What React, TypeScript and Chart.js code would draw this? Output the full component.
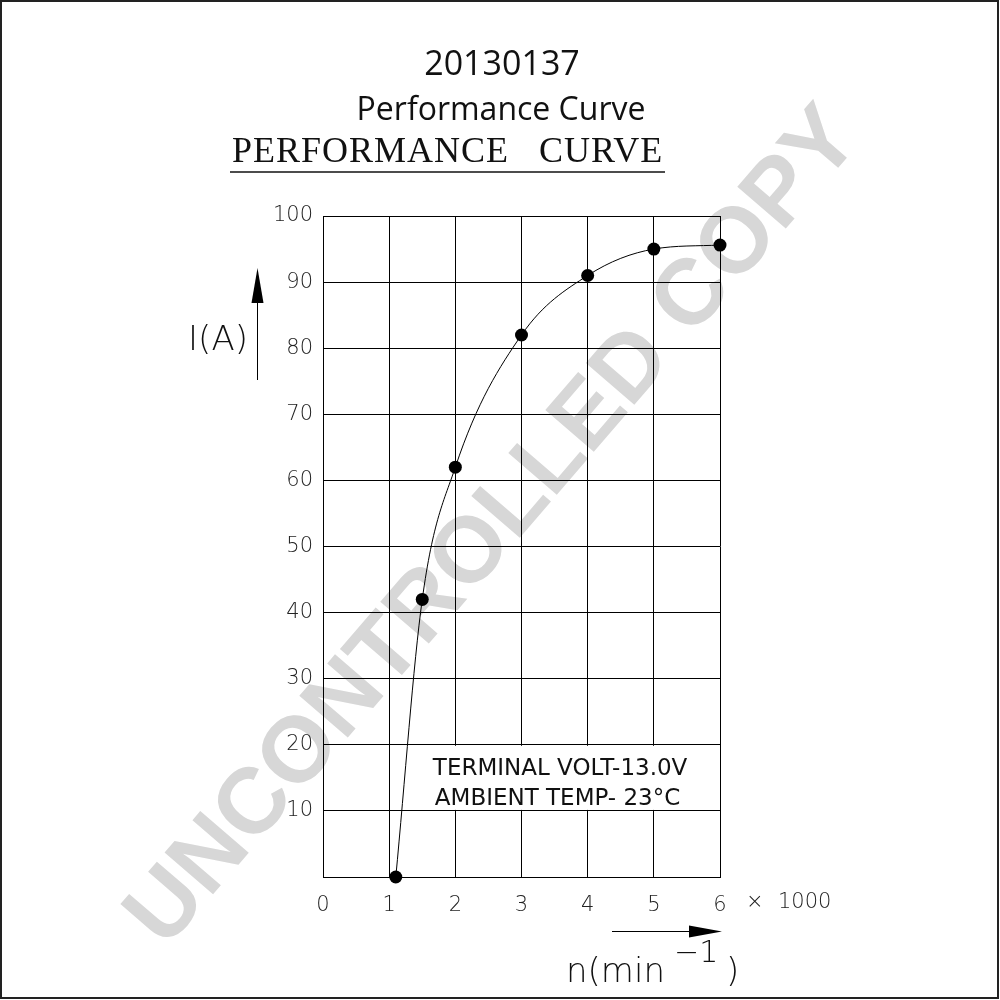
import React, { useEffect, useRef } from "react";
import { Chart, registerables } from "chart.js";

Chart.register(...registerables);

// ---- data ----
const speedK = [1.1, 1.5, 2, 3, 4, 5, 6]; // n x 1000 min^-1
const currentA = [0, 42, 62, 82, 91, 95, 95.6]; // I (A)
const xTicks = [0, 1, 2, 3, 4, 5, 6];
const yTicks = [0, 10, 20, 30, 40, 50, 60, 70, 80, 90, 100];
const titleLines = ["20130137", "Performance Curve"];
const subTitle = "PERFORMANCE CURVE";
const noteLines = ["TERMINAL VOLT-13.0V", "AMBIENT TEMP- 23°C"];
const watermarkText = "UNCONTROLLED COPY";
const yLabel = "I(A)";
const xLabelMain = "n(min";
const xLabelSup = "\u22121";
const xLabelEnd = ")";
const xUnitSign = "×";
const xUnitValue = "1000";

const TICK_FONT = '"DejaVu Sans"';

const decorPlugin = {
  id: "decor",
  beforeDraw(chart: any) {
    const ctx = chart.ctx as CanvasRenderingContext2D;
    ctx.save();
    ctx.fillStyle = "#ffffff";
    ctx.fillRect(0, 0, chart.width, chart.height);
    // watermark
    ctx.translate(489, 523);
    ctx.rotate((-49.3 * Math.PI) / 180);
    ctx.font = 'bold 93px "Liberation Sans"';
    ctx.fillStyle = "#d7d7d7";
    ctx.textAlign = "center";
    ctx.textBaseline = "alphabetic";
    ctx.fillText(watermarkText, 0, 33);
    ctx.restore();
  },
  beforeDatasetsDraw(chart: any) {
    const ctx = chart.ctx as CanvasRenderingContext2D;
    const xs = chart.scales.x;
    const ys = chart.scales.y;
    ctx.save();
    const left = xs.getPixelForValue(1) + 2;
    const right = xs.getPixelForValue(6) - 1;
    const top = ys.getPixelForValue(20) + 1;
    const bottom = ys.getPixelForValue(10) - 1;
    ctx.fillStyle = "#ffffff";
    ctx.fillRect(left, top, right - left, bottom - top);
    ctx.fillStyle = "#111111";
    ctx.font = `23px ${TICK_FONT}`;
    ctx.textAlign = "left";
    ctx.textBaseline = "alphabetic";
    ctx.fillText(noteLines[0], xs.getPixelForValue(1.66), ys.getPixelForValue(15.4));
    ctx.fillText(noteLines[1], xs.getPixelForValue(1.69), ys.getPixelForValue(10.9));
    ctx.restore();
  },
  afterDraw(chart: any) {
    const ctx = chart.ctx as CanvasRenderingContext2D;
    ctx.save();
    // outer border
    ctx.strokeStyle = "#222222";
    ctx.lineWidth = 2;
    ctx.strokeRect(1, 1, 997, 997);

    // titles
    ctx.fillStyle = "#111111";
    ctx.textAlign = "center";
    ctx.textBaseline = "alphabetic";
    ctx.font = '34px "Open Sans"';
    ctx.fillText(titleLines[0], 502, 75);
    ctx.font = '32px "Open Sans"';
    ctx.fillText(titleLines[1], 501, 120);

    ctx.textAlign = "left";
    ctx.font = '36px "Liberation Serif"';
    (ctx as any).letterSpacing = "1px";
    (ctx as any).wordSpacing = "20px";
    ctx.fillText(subTitle, 232, 162);
    (ctx as any).letterSpacing = "0px";
    (ctx as any).wordSpacing = "0px";
    ctx.strokeStyle = "#111111";
    ctx.lineWidth = 1.5;
    ctx.beginPath();
    ctx.moveTo(230, 172);
    ctx.lineTo(665, 172);
    ctx.stroke();

    // y axis label + arrow
    ctx.fillStyle = "#111111";
    ctx.font = `200 34px ${TICK_FONT}`;
    ctx.textAlign = "center";
    ctx.fillText(yLabel, 218, 350);
    ctx.strokeStyle = "#000000";
    ctx.lineWidth = 1;
    ctx.beginPath();
    ctx.moveTo(257.5, 380);
    ctx.lineTo(257.5, 300);
    ctx.stroke();
    ctx.fillStyle = "#000000";
    ctx.beginPath();
    ctx.moveTo(257.5, 268);
    ctx.lineTo(263.5, 303);
    ctx.lineTo(251.5, 303);
    ctx.closePath();
    ctx.fill();

    // x axis label + arrow
    ctx.beginPath();
    ctx.moveTo(612, 931.5);
    ctx.lineTo(692, 931.5);
    ctx.stroke();
    ctx.beginPath();
    ctx.moveTo(722, 931.5);
    ctx.lineTo(689, 925.5);
    ctx.lineTo(689, 937.5);
    ctx.closePath();
    ctx.fill();

    ctx.fillStyle = "#111111";
    ctx.textAlign = "left";
    ctx.font = `200 34px ${TICK_FONT}`;
    ctx.fillText(xLabelMain, 566, 982);
    ctx.font = `200 30px ${TICK_FONT}`;
    ctx.fillText(xLabelSup, 674, 962);
    ctx.font = `200 34px ${TICK_FONT}`;
    ctx.fillText(xLabelEnd, 726, 982);

    // x unit
    ctx.fillStyle = "#222222";
    ctx.font = `200 21px ${TICK_FONT}`;
    ctx.textBaseline = "middle";
    ctx.fillText(xUnitSign, 746, 903);
    ctx.fillText(xUnitValue, 778, 903);
    ctx.restore();
  },
};

export default function App() {
  const ref = useRef<HTMLCanvasElement | null>(null);
  useEffect(() => {
    document.body.style.margin = "0";
    const canvas = ref.current;
    if (!canvas) return;
    const chart = new Chart(canvas, {
      type: "line",
      data: {
        datasets: [
          {
            data: speedK.map((x, i) => ({ x, y: currentA[i] })),
            borderColor: "#000000",
            borderWidth: 1,
            backgroundColor: "#000000",
            pointRadius: 6.5,
            pointBorderWidth: 0,
            pointBackgroundColor: "#000000",
            cubicInterpolationMode: "monotone",
            fill: false,
            clip: false,
          },
        ],
      },
      options: {
        responsive: false,
        animation: false,
        events: [],
        layout: { padding: { left: 0, right: 280, top: 216, bottom: 0 } },
        plugins: {
          legend: { display: false },
          title: { display: false },
          tooltip: { enabled: false },
        },
        scales: {
          x: {
            type: "linear",
            position: "bottom",
            min: 0,
            max: 6,
            afterBuildTicks: (s: any) => {
              s.ticks = xTicks.map((v) => ({ value: v }));
            },
            afterFit: (s: any) => {
              s.height = 123;
            },
            grid: { color: "#000000", lineWidth: 1, drawTicks: false },
            border: { color: "#000000", width: 1 },
            ticks: {
              padding: 16,
              color: "#222222",
              font: { family: "DejaVu Sans", size: 21, weight: "200" },
              maxRotation: 0,
              autoSkip: false,
            },
          },
          y: {
            type: "linear",
            position: "left",
            min: 0,
            max: 100,
            afterBuildTicks: (s: any) => {
              s.ticks = yTicks.map((v) => ({ value: v }));
            },
            afterFit: (s: any) => {
              s.width = 323;
            },
            grid: { color: "#000000", lineWidth: 1, drawTicks: false },
            border: { color: "#000000", width: 1 },
            ticks: {
              padding: 10,
              color: "#222222",
              font: { family: "DejaVu Sans", size: 21, weight: "200" },
              autoSkip: false,
              callback: (v: any) => (v === 0 ? "" : String(v)),
            },
          },
        },
      },
      plugins: [decorPlugin],
    } as any);
    return () => chart.destroy();
  }, []);
  return (
    <canvas
      ref={ref}
      width={1000}
      height={1000}
      style={{ display: "block", width: "1000px", height: "1000px" }}
    />
  );
}
